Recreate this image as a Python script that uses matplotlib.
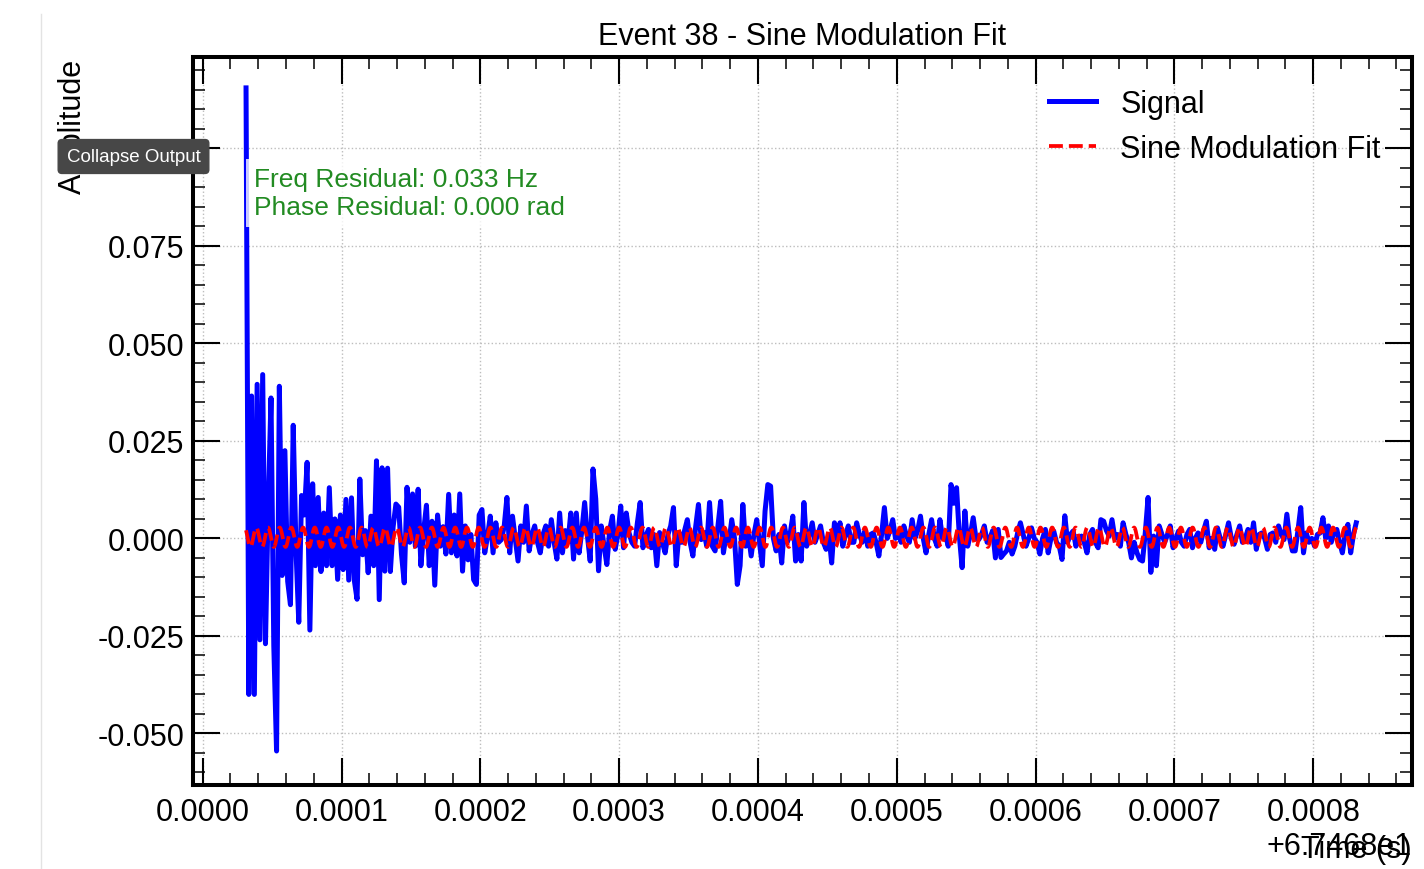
import numpy as np
import matplotlib
matplotlib.use("Agg")
import matplotlib.pyplot as plt
from matplotlib.ticker import MultipleLocator, AutoMinorLocator, FuncFormatter
from matplotlib.lines import Line2D

plt.rcParams['font.family'] = ['Liberation Sans', 'DejaVu Sans']
plt.rcParams['axes.unicode_minus'] = False

# Signal samples (units of 1e-3), evenly spaced in time
signal_e3 = [
    # 0.00003 - 0.00011
    115.5, -40, 36.5, -40, 39.5, -26, 42, -27, 9, 36, -27.5, -54.5, 39, -9.5, 22.5, -11,
    -17, 29, -3, -21.5, 11, 6, 19.5, -23.5, 14, -7, 10.5, -8.5, 6.5, -7, 13, -7,
    5, -10.5, 6, -8, 10,
    # 0.00011 - 0.00018
    -10.7, 10.4, -10.7, -15.6, 15.2, -4.2, 2, -8.8, 5.7, -7, 19.9, -15.7, 18.1, -8.4, 18, -8.5,
    3, 8.8, 8, -4, -11.4, 13.1, -1, 11.4, -2, 12.6, -7, 2, 8.5, -7, 4.4, -12,
    6, -2, 3, -4, 11.3,
    # 0.00018 - 0.00026
    -3.7, 6, -4.5, 11.4, -8.4, 3.2, -5.5, 1, -10.6, -11.8, 6, 7.4, -3.7, 0.5, 5.7, -3.7,
    4, -1, -0.3, 3, 10.5, -3.7, 5.7, 0, -5.8, 3.2, -1, 8.3, -3.2, 1, 3.2, -1,
    -3.7, 1, 3.2, -2, 4.8, -1, -5.3, 6.5,
    # 0.00026 - 0.00037
    -3.7, 2, -1, 6.5, -5.3, 6.5, -3.7, 2, 9.2, 0.6, -5.8, 17.8, 10.1, -8.3, 3.2, -2,
    -6.7, 2, 5.7, -2.8, 1, 8.3, -2.4, 6.5, 1.4, -1, -2, 4, 9.2, -2.4, 0.5, 2.3,
    -2.4, 1, -7, 1.5, -1, -3.7, 1, 3.2, 7.9, -7, 1.5, -1, 2, 4.8, -1, -4.5,
    3, 8.7, -0.3, 1.5, -2, 9.2, -2, -3.2,
    # 0.00037 - 0.00047
    3, 9.5, -3.7, 1, -1, 4.8, 0, -11.8, -7, 8.7, -2, 1, -4.5, 1, 4.8, -1,
    -7, 7, 13.8, 13.4, 0, -3.2, 1, -6.3, 3.2, -1, 1, 5.7, -5.8, 1, -5.8, 9.2,
    -2, 1, 4, -1, 1, 3.2, -1, -2.8, 1, -6.3, 4, 0, 4, -2, 1, 3.2, -1,
    # 0.00047 - 0.00058
    -1, 4, 1, -1, 2, -2, 1, 1.4, -1, -4.5, 1, 7.9, 0, 2, 4.8, 0,
    1.4, -1, 3.2, 0.6, -1, 4.8, 0, 2, 5.7, 0, -3.7, 1, 4.8, 0, -2, 4.8,
    0, 1, -2, 13.8, 9, 13, 0.6, -7.5, 7, -2, 1, 5.3, 0, -0.3, 1, 3.2,
    -1, 0, 2, -5, 2.3, -4.9,
    # 0.00058 - 0.00071
    -4, -3.2, -1, -4, -2, 1.4, 4, 1, -2, 0, 2.7, 0, -1, -4, 0, 2.3,
    -3.7, 0, 1.9, -1, -2, -5.4, 5.8, -1, 1, 1.9, -2, 0, 0.6, -1, -3.7, 1,
    2.3, -1, -2.4, 4.8, 4.4, 2, 0.6, 4.8, 0.2, 1, -2, 4, 1, -1, -5, -1,
    -3.7, -5.4, -5.8, 1.5, 10.5, -8.7, 0.6, -7, 3.2, 1, -1, 1, 3.2, -2.4, 0, 1.9,
    -1,
    # 0.00071 - 0.00083
    -2, 1, 2.3, -2.4, 0, 1.4, -1, 2, 4.4, -2.4, 0, -2.8, 2.7, 0, -2, 1,
    4, 0, -1.5, 1, 3.2, -1, 0, 2.3, -1, 4, -2.8, 1, 1.4, 0, -2.8, 1,
    1.4, -1, 3.2, 1, -0.3, 6.2, 0, -3.2, -3.2, 2, 7.9, -3.7, 1.4, -1, 0, -2,
    1, 1.4, 5.3, 0, 3.2, -1, 1.4, 2.3, -1, -3.7, 1, 3.6, -3.7, 1, 4,
]

# time axis (s), shown relative to the offset
time_offset = 67.468
t_first = 3.12e-5
t_last = 8.31e-4
x_limits = (-7.35e-6, 8.712e-4)
y_limits = (-0.0631, 0.1233)

# sine modulation fit parameters
fit_amp = 0.0025
fit_freq = 118600.0
fit_phase = 4.23
fit_offset = 0.0003

freq_residual = 0.033
phase_residual = 0.000
event_id = 38

signal = np.array(signal_e3) * 1e-3
t = np.linspace(t_first, t_last, len(signal))
t_fit = np.linspace(t_first, t_last, 2000)
fit = fit_offset + fit_amp * np.sin(2 * np.pi * fit_freq * t_fit + fit_phase)

fig = plt.figure(figsize=(14.24, 8.7), dpi=100)
ax = fig.add_axes([0.1352, 0.0971, 0.8564, 0.8357])

ax.plot(t, signal, color='blue', lw=3.6, label='Signal')
ax.plot(t_fit, fit, color='red', ls='--', lw=2.7, label='Sine Modulation Fit')

ax.set_xlim(*x_limits)
ax.set_ylim(*y_limits)

ax.xaxis.set_major_locator(MultipleLocator(1e-4))
ax.xaxis.set_minor_locator(AutoMinorLocator(5))
ax.yaxis.set_major_locator(MultipleLocator(0.025))
ax.yaxis.set_minor_locator(AutoMinorLocator(5))

xfmt = FuncFormatter(lambda v, pos: f"{round(v, 8) + 0:.4f}")
xfmt.set_offset_string(f"+{time_offset / 10:.4f}e1")
ax.xaxis.set_major_formatter(xfmt)
ax.yaxis.set_major_formatter(FuncFormatter(lambda v, pos: f"{round(v, 6) + 0:.3f}"))
ax.xaxis.get_offset_text().set_fontsize(22)

ax.tick_params(which='both', direction='in', top=True, right=True, labelsize=22)
ax.tick_params(which='major', length=19.5, width=1.5)
ax.tick_params(which='minor', length=8.5, width=1.1)
ax.tick_params(axis='x', which='major', pad=9)
ax.tick_params(axis='y', which='major', pad=6)
for sp in ax.spines.values():
    sp.set_linewidth(2.9)

ax.grid(True, which='major', ls=':', color='#bdbdbd', lw=1.0)

ax.set_title(f"Event {event_id} - Sine Modulation Fit", fontsize=22, pad=10)
ax.set_xlabel("Time (s)", fontsize=22, loc='right', labelpad=5)
ax.set_ylabel("Amplitude", fontsize=22, loc='top', labelpad=7)

ax.legend(loc='upper right', fontsize=22, frameon=False, handlelength=1.55,
          borderaxespad=0.62)

ax.text(0.05, 0.85,
        f"Freq Residual: {freq_residual:.3f} Hz\nPhase Residual: {phase_residual:.3f} rad",
        transform=ax.transAxes, va='top', ha='left', fontsize=19, color='forestgreen',
        linespacing=1.25,
        bbox=dict(boxstyle='square,pad=0.3', facecolor='white', edgecolor='none', alpha=0.8))

# notebook overlay bits from the screenshot
fig.add_artist(Line2D([41 / 1424, 41 / 1424], [0, 1 - 15 / 870],
                      transform=fig.transFigure, color='#e3e3e3', lw=1))
fig.text(133.5 / 1424, 1 - 157.5 / 870, "Collapse Output", fontsize=13.5, color='white',
         ha='center', va='center', zorder=20,
         bbox=dict(boxstyle='round,pad=0.45,rounding_size=0.2', facecolor='#474747',
                   edgecolor='#474747'))

fig.savefig("out.png", dpi=100)
